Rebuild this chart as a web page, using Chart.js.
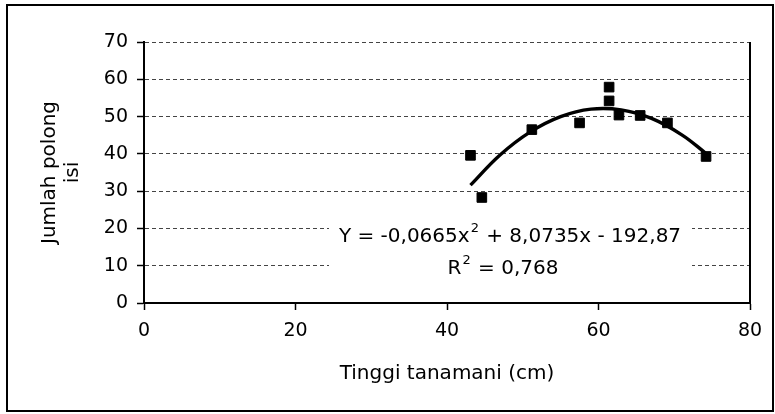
<!DOCTYPE html>
<html><head><meta charset="utf-8">
<script src="https://cdn.jsdelivr.net/npm/chart.js@4.4.1/dist/chart.umd.min.js"></script>
<style>html,body{margin:0;padding:0;background:#fff}#wrap{width:775px;height:414px}</style>
</head><body><div id="wrap"><canvas id="c" width="775" height="414"></canvas></div>
<script>
// Observed points: plant height (cm) vs number of filled pods
const xValues = [43.1, 44.6, 51.2, 57.5, 61.4, 61.4, 62.7, 65.5, 69.1, 74.2];
const yValues = [39.6, 28.3, 46.5, 48.3, 57.9, 54.2, 50.4, 50.3, 48.3, 39.3];
// Trend curve
const trendX = [43.1, 47, 51, 55, 59, 63, 67, 71, 74.2];
const trendY = [31.6, 39.7, 45.9, 50.0, 52.0, 51.8, 49.5, 45.1, 40.1];
const xTicks = [0, 20, 40, 60, 80];
const yTicks = [0, 10, 20, 30, 40, 50, 60, 70];
const xTitle = 'Tinggi tanamani (cm)';
const yTitle = ['Jumlah polong', 'isi'];
const equationLine1 = ['Y = -0,0665x', '2', ' + 8,0735x - 192,87'];
const equationLine2 = ['R', '2', ' = 0,768'];

const FONT = '"DejaVu Sans", Verdana, sans-serif';

const points = xValues.map((x, i) => ({x, y: yValues[i]}));
const trend = trendX.map((x, i) => ({x, y: trendY[i]}));

function drawSupLine(ctx, parts, cx, cy) {
  const big = '20px ' + FONT, small = '13px ' + FONT;
  ctx.font = big; const w0 = ctx.measureText(parts[0]).width;
  ctx.font = small; const w1 = ctx.measureText(parts[1]).width;
  ctx.font = big; const w2 = ctx.measureText(parts[2]).width;
  let x = cx - (w0 + w1 + w2) / 2;
  ctx.textBaseline = 'middle'; ctx.textAlign = 'left'; ctx.fillStyle = '#000';
  ctx.font = big; ctx.fillText(parts[0], x, cy); x += w0;
  ctx.font = small; ctx.fillText(parts[1], x + 1, cy - 8); x += w1 + 2;
  ctx.font = big; ctx.fillText(parts[2], x, cy);
}

const framePlugin = {
  id: 'frame',
  beforeDraw(chart) {
    const ctx = chart.ctx;
    ctx.save(); ctx.fillStyle = '#fff'; ctx.fillRect(0, 0, chart.width, chart.height); ctx.restore();
  },
  afterDraw(chart) {
    const {ctx, chartArea: a} = chart;
    ctx.save();
    ctx.strokeStyle = '#000'; ctx.lineWidth = 2;
    ctx.strokeRect(7, 5, 766, 406);
    ctx.beginPath(); ctx.moveTo(a.right, a.top); ctx.lineTo(a.right, a.bottom); ctx.stroke();
    // equation label with white box
    ctx.fillStyle = '#fff';
    ctx.fillRect(329, 221, 363, 62);
    drawSupLine(ctx, equationLine1, 509, 237);
    drawSupLine(ctx, equationLine2, 502, 269);
    ctx.restore();
  }
};

new Chart(document.getElementById('c'), {
  type: 'scatter',
  data: {
    datasets: [
      {
        label: 'Data',
        data: points,
        pointStyle: 'rect',
        pointRadius: 6.8,
        pointHoverRadius: 6.8,
        backgroundColor: '#000',
        borderColor: '#000',
        borderWidth: 1
      },
      {
        type: 'line',
        label: 'Trend',
        data: trend,
        borderColor: '#000',
        borderWidth: 3.4,
        pointRadius: 0,
        tension: 0.4,
        fill: false
      }
    ]
  },
  options: {
    responsive: false,
    animation: false,
    devicePixelRatio: 1,
    layout: {padding: {left: 0, right: 25, top: 42, bottom: 0}},
    plugins: {legend: {display: false}, tooltip: {enabled: false}},
    scales: {
      x: {
        type: 'linear', min: 0, max: 80,
        afterBuildTicks: s => { s.ticks = xTicks.map(v => ({value: v})); },
        afterFit: s => { s.height = 111; },
        ticks: {color: '#000', font: {family: FONT, size: 19}, padding: 10},
        grid: {drawOnChartArea: false, drawTicks: true, tickLength: 7, tickColor: '#000', tickWidth: 1.5},
        border: {display: true, color: '#000', width: 2},
        title: {display: true, text: xTitle, color: '#000', font: {family: FONT, size: 20}, padding: {top: 0, bottom: 28}}
      },
      y: {
        type: 'linear', min: 0, max: 70,
        afterBuildTicks: s => { s.ticks = yTicks.map(v => ({value: v})); },
        afterFit: s => { s.width = 144; },
        ticks: {color: '#000', font: {family: FONT, size: 19}, padding: 9},
        grid: {
          drawOnChartArea: true, drawTicks: true, tickLength: 7, tickColor: '#000', tickWidth: 1.5,
          color: ctx => (ctx.tick && ctx.tick.value === 0) ? 'rgba(0,0,0,0)' : '#444',
          lineWidth: 1
        },
        border: {display: true, color: '#000', width: 2, dash: [4, 3]},
        title: {display: true, text: yTitle, color: '#000', font: {family: FONT, size: 20, lineHeight: 1.125}, padding: {top: 39, bottom: 0}}
      }
    }
  },
  plugins: [framePlugin]
});
</script>
</body></html>
